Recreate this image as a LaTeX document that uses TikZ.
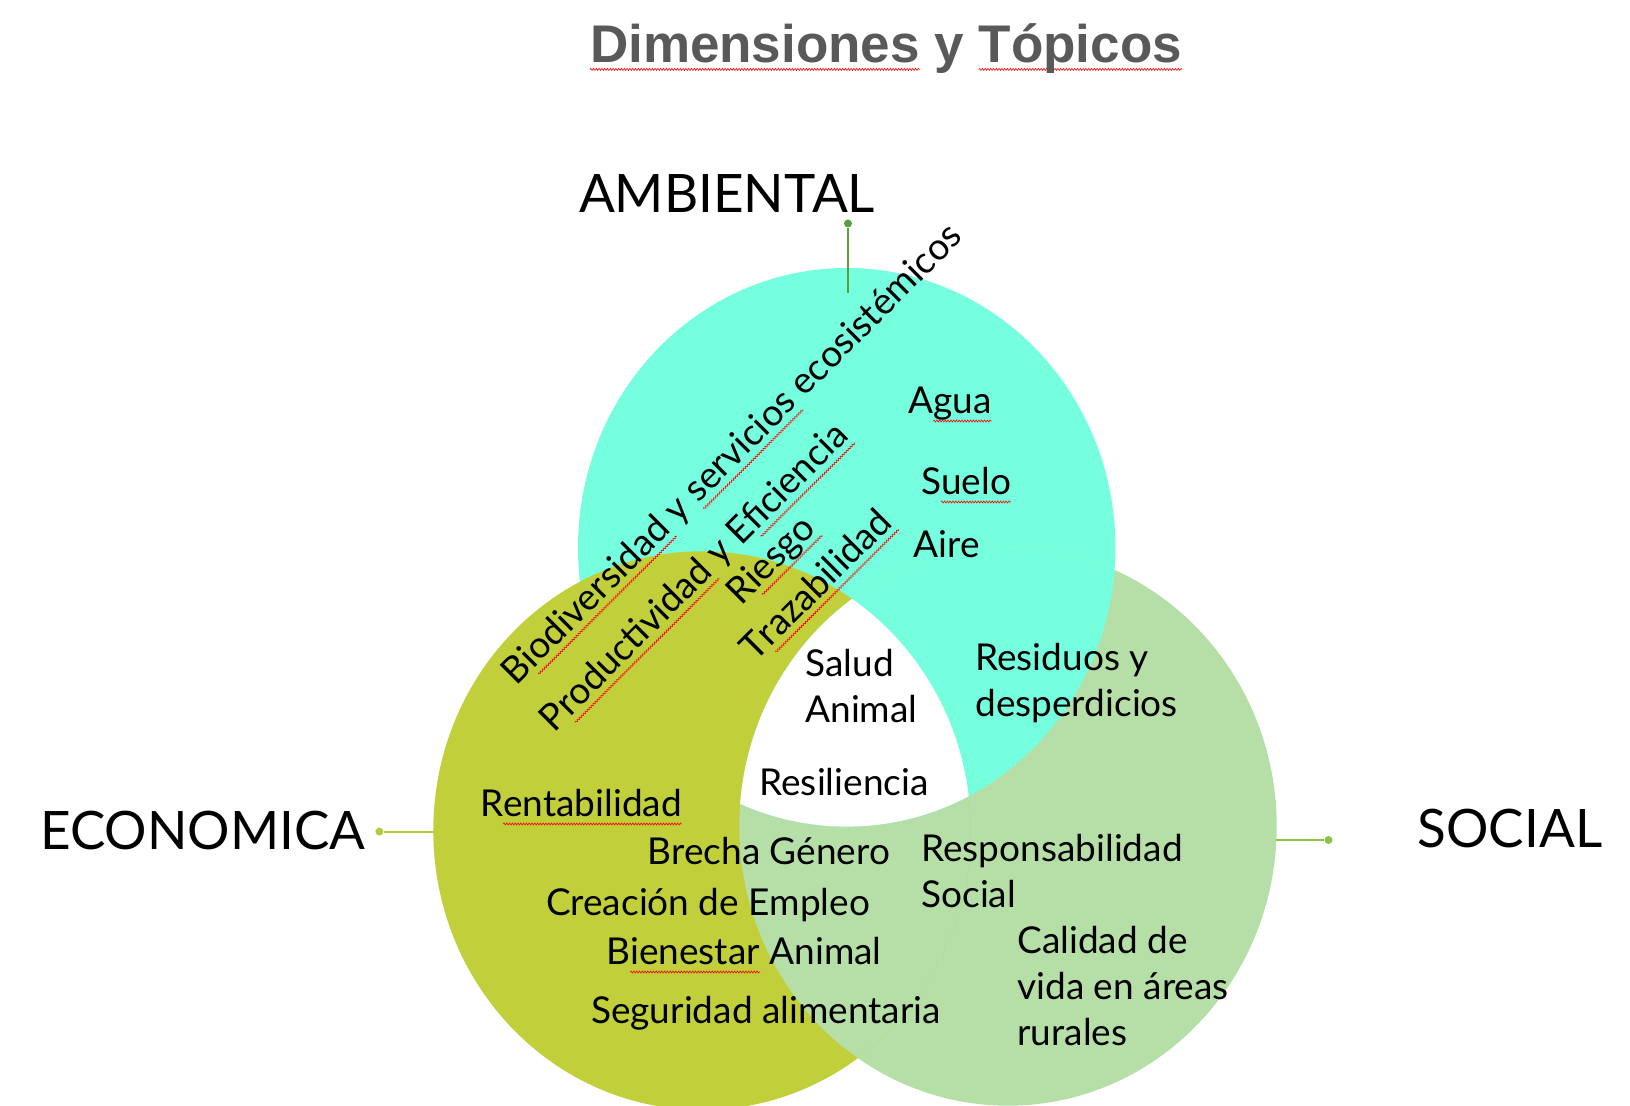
\documentclass[tikz,border=0pt]{standalone}
\usepackage{fontspec}
\usetikzlibrary{decorations.pathmorphing}
\newfontfamily\bodyfont{Lato}
\newfontfamily\titlefont{Liberation Sans}
\definecolor{ambcol}{RGB}{118,255,222}
\definecolor{ecocol}{RGB}{193,208,58}
\definecolor{soccol}{RGB}{182,223,168}
\definecolor{titlecol}{RGB}{89,89,89}
\definecolor{ambline}{RGB}{92,158,63}
\definecolor{ecoline}{RGB}{176,204,58}
\definecolor{socline}{RGB}{140,198,63}
% red wavy spell-check mark under a word
\newcommand{\spw}[1]{\setbox0\hbox{#1}\edef\spwlen{\the\wd0}%
	\tikz[overlay, baseline=0pt]\draw[red, line width=0.3pt, decorate,
		decoration={zigzag, amplitude=0.5pt, segment length=1.4pt}] (0pt,-3.5pt) -- (\spwlen,-3.5pt);#1}

\begin{document}
\begin{tikzpicture}[x=0.5pt, y=-0.5pt,
	lbl/.style={font=\bodyfont\fontsize{18.5}{23}\selectfont, inner sep=0pt},
	dim/.style={font=\bodyfont\fontsize{26.5}{32}\selectfont, inner sep=0pt, anchor=base},
	dot/.style={circle, inner sep=0pt, minimum size=4pt},
	lead/.style={line width=1pt}]
	\useasboundingbox (0,0) rectangle (1630,1106);
	% the three sets
	\coordinate (amb) at (846.7,547.3);
	\coordinate (eco) at (702,830.6);
	\coordinate (soc) at (1008,826.4);
	\def\rx{268.7}
	\def\ry{279.3}
	\def\ambpath{(amb) ellipse [x radius=\rx, y radius=\ry]}
	\def\ecopath{(eco) ellipse [x radius=\rx, y radius=\ry]}
	\def\socpath{(soc) ellipse [x radius=\rx, y radius=\ry]}
	\fill[ambcol] \ambpath;
	\fill[soccol] \socpath;
	\fill[ecocol] \ecopath;
	\begin{scope}
		\clip \socpath;
		\fill[soccol] \ecopath;
	\end{scope}
	\begin{scope}
		\clip \ambpath;
		\fill[ambcol] \socpath;
	\end{scope}
	\begin{scope}
		\clip \ambpath;
		\clip \ecopath;
		\fill[white] \socpath;
	\end{scope}

	% title and dimension labels
	\node[font=\titlefont\bfseries\fontsize{26.5}{30}\selectfont, text=titlecol, anchor=base, inner sep=0pt] (title) at (886,62.4) {\spw{Dimensiones} y \spw{Tópicos}};
	\node[dim] (ambl) at (727,213) {AMBIENTAL};
	\node[dim] (ecol) at (203,850) {ECONOMICA};
	\node[dim] (socl) at (1510,848) {SOCIAL};

	\node[dot, fill=ambline] (ambdot) at (848,223.5) {};
	\node[dot, fill=ecoline] (ecodot) at (379.4,831.6) {};
	\node[dot, fill=socline] (socdot) at (1328.5,840) {};
	\coordinate (ambend) at (848,293);
	\coordinate (ecoend) at (435,831.6);
	\coordinate (socend) at (1276,840);
	\draw[lead, ambline] (ambdot) -- (ambend);
	\draw[lead, ecoline] (ecodot) -- (ecoend);
	\draw[lead, socline] (socdot) -- (socend);

	% topics
	\node[lbl, rotate=45] (biod) at (733,455) {B\spw{iodiversidad} y \spw{servicios} ecosistémicos};
	\node[lbl, rotate=45] (prod) at (695,578) {P\spw{roductividad} y E\spw{ficiencia}};
	\node[lbl, rotate=45] (ries) at (772,561) {R\spw{iesgo}};
	\node[lbl, rotate=45] (traz) at (815,584) {T\spw{razabilidad}};

	\node[lbl, anchor=base] (agua) at (950,414) {A\spw{gua}};
	\node[lbl, anchor=base] (suel) at (966,495) {S\spw{uelo}};
	\node[lbl, anchor=base] (aire) at (947,558) {Aire};

	\node[lbl, anchor=west, align=left] (salu) at (805,686) {Salud\\Animal};
	\node[lbl, anchor=west, align=left] (resi) at (975,683) {Residuos y\\desperdicios};
	\node[lbl, anchor=base] (resl) at (844,796) {Resiliencia};

	\node[lbl, anchor=base] (rent) at (581,817) {R\spw{entabilidad}};
	\node[lbl, anchor=base] (brec) at (769,865) {Brecha Género};
	\node[lbl, anchor=base] (crea) at (708,916) {Creación de Empleo};
	\node[lbl, anchor=base] (bien) at (744,965) {B\spw{ienestar} Animal};
	\node[lbl, anchor=base] (segu) at (766,1024) {Seguridad alimentaria};

	\node[lbl, anchor=west, align=left] (resp) at (921,871) {Responsabilidad\\Social};
	\node[lbl, anchor=west, align=left] (cali) at (1017,986) {Calidad de\\vida en áreas\\rurales};
\end{tikzpicture}
\end{document}
